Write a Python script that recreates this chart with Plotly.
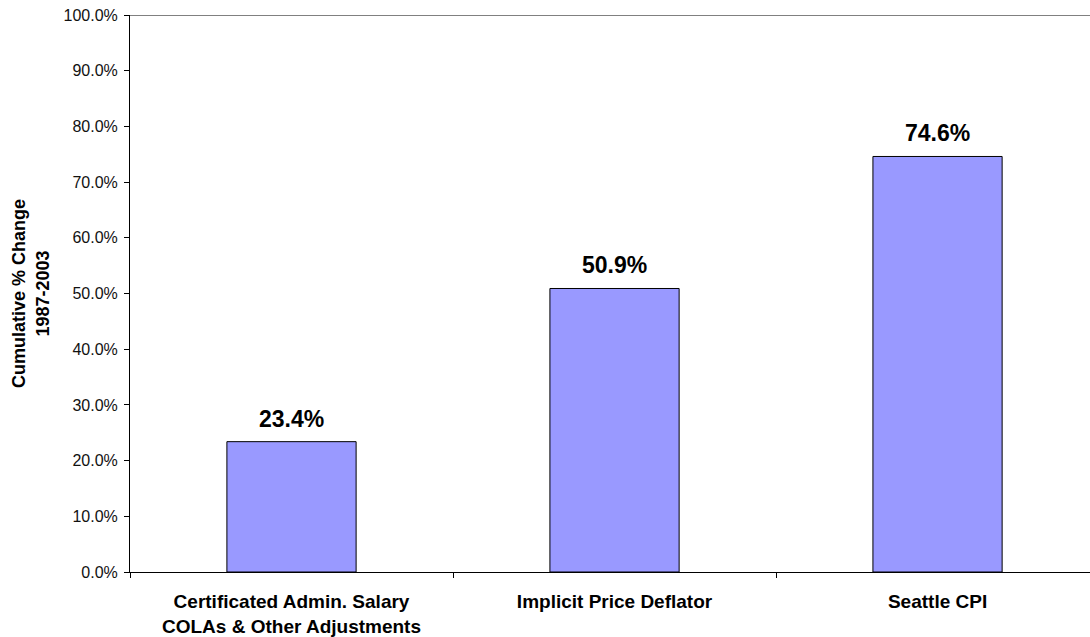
import plotly.graph_objects as go

categories = ["Certificated Admin. Salary<br>COLAs & Other Adjustments",
              "Implicit Price Deflator",
              "Seattle CPI"]
values = [23.4, 50.9, 74.6]
value_labels = ["23.4%", "50.9%", "74.6%"]
tick_vals = [0, 10, 20, 30, 40, 50, 60, 70, 80, 90, 100]
tick_text = ["0.0%", "10.0%", "20.0%", "30.0%", "40.0%", "50.0%",
             "60.0%", "70.0%", "80.0%", "90.0%", "100.0%"]

FONT = "Liberation Sans, Arial, sans-serif"

fig = go.Figure()
fig.add_trace(go.Bar(
    x=categories, y=values,
    marker=dict(color="#9999FF", line=dict(color="black", width=1)),
    width=0.4,
    hoverinfo="skip",
))

for c, v, t in zip(categories, values, value_labels):
    fig.add_annotation(x=c, y=v, text="<b>%s</b>" % t, showarrow=False,
                       yanchor="bottom", yshift=8,
                       font=dict(family=FONT, size=23, color="black"))

fig.add_shape(type="line", xref="paper", yref="y", x0=0, x1=1, y0=100, y1=100,
              line=dict(color="#808080", width=2), layer="below")

fig.update_layout(
    width=1090, height=637,
    margin=dict(l=130, r=0, t=15, b=65, autoexpand=False),
    paper_bgcolor="white", plot_bgcolor="white",
    showlegend=False,
    font=dict(family=FONT, color="black"),
    xaxis=dict(
        type="category",
        range=[-0.5, 2.472],
        automargin=False,
        showline=True, linecolor="black", linewidth=1,
        ticks="outside", tickson="boundaries", ticklen=5, tickcolor="black",
        tickfont=dict(family=FONT, size=19, color="black"),
        ticklabelstandoff=12,
        tickvals=categories,
        ticktext=["<b>%s</b>" % c for c in categories],
        showgrid=False, zeroline=False,
        fixedrange=True,
    ),
    yaxis=dict(
        range=[0, 100],
        automargin=False,
        tickvals=tick_vals, ticktext=tick_text,
        showline=True, linecolor="black", linewidth=1,
        ticks="outside", ticklen=5, tickcolor="black",
        tickfont=dict(family=FONT, size=16, color="#111111"),
        ticklabelstandoff=3,
        showgrid=False, zeroline=False,
        fixedrange=True,
        title=dict(text="<b>Cumulative % Change<br>1987-2003</b>",
                   font=dict(family=FONT, size=18, color="black"),
                   standoff=9),
    ),
)

fig.write_html("out.html", config={"displayModeBar": False, "staticPlot": True})

with open("out.html", "r", encoding="utf-8") as f:
    html = f.read()
html = html.replace("<head>", "<head><style>html,body{margin:0;padding:0;overflow:hidden;}</style>", 1)
with open("out.html", "w", encoding="utf-8") as f:
    f.write(html)
